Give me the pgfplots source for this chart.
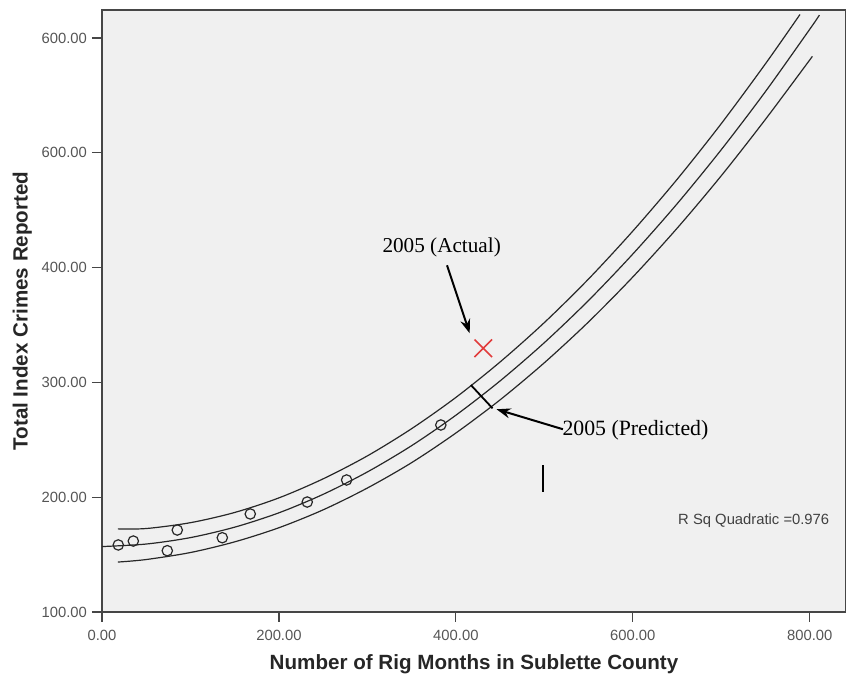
\documentclass[border=0pt]{standalone}
\usepackage{pgfplots}
\pgfplotsset{compat=1.18}
\usepackage{fontspec}
\setmainfont{Liberation Sans}
\newfontfamily\timesfont{Liberation Serif}
\usetikzlibrary{arrows.meta}

\definecolor{plotbg}{RGB}{240,240,240}
\definecolor{framec}{RGB}{70,70,70}
\definecolor{tickc}{RGB}{85,85,85}
\definecolor{curvec}{RGB}{40,40,40}
\definecolor{actualred}{RGB}{225,60,60}

\begin{document}
\begin{tikzpicture}
  \begin{axis}[
    scale only axis,
    width=372pt, height=301pt,
    xmin=0, xmax=841, ymin=100, ymax=624.4,
    xtick={0,200,400,600,800},
    xticklabels={0.00,200.00,400.00,600.00,800.00},
    ytick={100,200,300,400,500,600},
    yticklabels={100.00,200.00,300.00,400.00,600.00,600.00},
    tick align=outside, xtick pos=bottom, ytick pos=left,
    major tick length=5pt,
    tick style={framec, line width=0.6pt},
    axis line style={framec, line width=0.7pt},
    axis background/.style={fill=plotbg},
    tick label style={font=\fontsize{7.4}{8}\selectfont, text=tickc},
    xticklabel style={yshift=-0.5pt},
    yticklabel style={xshift=1pt},
    xlabel={\bfseries Number of Rig Months in Sublette County},
    ylabel={\bfseries Total Index Crimes Reported},
    label style={font=\fontsize{10.3}{12}\selectfont, text=black!85},
    xlabel style={yshift=0pt},
    ylabel style={yshift=-2pt},
    clip=true,
  ]
  % quadratic fit
  \addplot[curvec, line width=0.6pt, smooth] coordinates {
    (0,157.0)(50,159.2)(100,164.8)(150,173.9)(200,186.4)(250,202.5)
    (300,222.0)(350,244.9)(400,271.4)(450,301.3)(500,334.6)(550,371.4)
    (600,411.8)(650,455.5)(700,502.7)(750,553.4)(800,607.6)(811,620.0)};
  % upper interval
  \addplot[curvec, line width=0.6pt, smooth] coordinates {
    (18,172.4)(50,172.7)(100,177.8)(150,186.7)(200,199.4)(250,216.0)
    (300,236.0)(350,259.7)(400,286.9)(450,317.8)(500,352.1)(550,390.1)
    (600,431.8)(650,476.8)(700,525.4)(750,577.6)(789,620.5)};
  % lower interval
  \addplot[curvec, line width=0.6pt, smooth] coordinates {
    (18,143.5)(50,145.7)(100,151.8)(150,161.1)(200,173.4)(250,189.0)
    (300,208.0)(350,230.1)(400,255.9)(450,284.8)(500,317.1)(550,352.7)
    (600,391.8)(650,434.2)(700,480.0)(750,529.2)(803,584.0)};
  % observed values
  \addplot[only marks, mark=o, mark size=2.6pt, mark options={curvec, line width=0.6pt}]
    coordinates {(18.4,158.4)(35.4,161.8)(73.8,153.4)(85.1,171.4)(136,164.7)
                 (167.6,185.4)(232,195.8)(276.5,215.0)(383,262.9)};
  % 2005 actual
  \addplot[only marks, mark=x, mark size=6.2pt, mark options={actualred, line width=0.8pt}]
    coordinates {(431,329.7)};
  % 2005 predicted
  \addplot[black, line width=0.9pt] coordinates {(417,297.7)(441.5,277.4)};

  \node[font=\timesfont\fontsize{10.6}{12}\selectfont] at (axis cs:384,418) {2005 (Actual)};
  \draw[black, line width=1pt, -{Stealth[length=7pt,width=5pt]}]
    (axis cs:390,402) -- (axis cs:415.6,342.8);
  \node[font=\timesfont\fontsize{10.9}{12}\selectfont] at (axis cs:603,258) {2005 (Predicted)};
  \draw[black, line width=1pt, -{Stealth[length=7pt,width=5pt]}]
    (axis cs:521,259.2) -- (axis cs:446,276.6);
  \draw[black, line width=0.7pt] (axis cs:498.6,228) -- (axis cs:498.6,204.8);
  \node[font=\fontsize{7.4}{8}\selectfont, text=black!75] at (axis cs:736.7,179.5)
    {R Sq Quadratic =0.976};
  \end{axis}
  \pgfresetboundingbox
  \path (current axis.south west) ++(-51pt,-32.5pt) coordinate (bbl);
  \path (current axis.north east) ++(0pt,5pt) coordinate (bbr);
  \useasboundingbox (bbl) rectangle (bbr);
\end{tikzpicture}
\end{document}
